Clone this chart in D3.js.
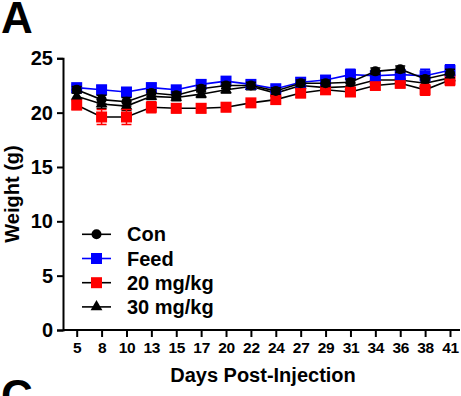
<!DOCTYPE html>
<html><head><meta charset="utf-8">
<script src="https://cdn.jsdelivr.net/npm/d3@7"></script>
<style>body{margin:0;background:#fff}svg{display:block}text{font-family:Arial,"Liberation Sans",sans-serif;font-weight:bold}</style>
</head><body><div id="c"></div>
<script>
const days = [5,8,10,13,15,17,20,22,24,27,29,31,34,36,38,41];
const yTicks = [0,5,10,15,20,25];
const con   = [22.1,21.2,21.0,21.8,21.6,22.2,22.5,22.5,22.0,22.7,22.7,22.8,23.8,24.0,23.1,23.6];
const conErr= [0.3,0.4,0.4,0.3,0.3,0.3,0.3,0.3,0.3,0.3,0.3,0.3,0.3,0.3,0.3,0.4];
const feed  = [22.3,22.1,21.9,22.3,22.1,22.6,22.9,22.6,22.2,22.8,23.0,23.5,23.4,23.5,23.4,23.9];
const feedErr=[0.3,0.4,0.4,0.4,0.3,0.4,0.4,0.3,0.3,0.4,0.4,0.5,0.4,0.4,0.6,0.5];
const d20   = [20.7,19.6,19.6,20.5,20.4,20.4,20.5,20.9,21.2,21.8,22.1,21.9,22.5,22.7,22.1,23.0];
const d20Err= [0.4,0.7,0.7,0.5,0.4,0.4,0.4,0.3,0.4,0.4,0.4,0.4,0.4,0.4,0.5,0.5];
const d30   = [21.5,20.8,20.6,21.5,21.4,21.7,22.1,22.4,21.8,22.5,22.3,22.4,23.0,23.0,22.7,23.2];
const d30Err= [0.3,0.4,0.4,0.3,0.3,0.3,0.3,0.3,0.3,0.3,0.3,0.3,0.3,0.3,0.3,0.3];
const seriesNames = ["Con","Feed","20 mg/kg","30 mg/kg"];

const W=461,H=396;
const svg=d3.select("#c").append("svg").attr("width",W).attr("height",H);
const x=d3.scalePoint().domain(days).range([76.7,450]);
const y=d3.scaleLinear().domain([0,25]).range([330,58.3]);

const series=[
 {name:seriesNames[3],vals:d30,err:d30Err,fill:"#000",line:"#000",shape:"tri"},
 {name:seriesNames[2],vals:d20,err:d20Err,fill:"#ff0000",line:"#000",shape:"sq",errc:"#ff0000"},
 {name:seriesNames[1],vals:feed,err:feedErr,fill:"#0000ff",line:"#0000ff",shape:"sq",errc:"#0000ff"},
 {name:seriesNames[0],vals:con,err:conErr,fill:"#000",line:"#000",shape:"circ"}
];
function marker(g,shape,fill){
  if(shape==="sq") g.append("rect").attr("x",-5.5).attr("y",-5.5).attr("width",11).attr("height",11).attr("fill",fill);
  else if(shape==="circ") g.append("circle").attr("r",5).attr("fill",fill);
  else g.append("path").attr("d",d3.symbol().type(d3.symbolTriangle).size(60)()).attr("fill",fill);
}
// axes
const ya=svg.append("g").attr("transform","translate(63,0)")
 .call(d3.axisLeft(y).tickValues(yTicks).tickSize(6).tickPadding(4));
ya.select(".domain").attr("stroke-width",2);
ya.selectAll(".tick line").attr("stroke-width",2);
ya.selectAll(".tick text").attr("font-size",20).attr("fill","#000");
const xa=svg.append("g").attr("transform","translate(0,330)")
 .call(d3.axisBottom(x).tickSize(7).tickPadding(5));
xa.select(".domain").attr("d","M63,0H460").attr("stroke-width",2);
xa.selectAll(".tick line").attr("stroke-width",2);
xa.selectAll(".tick text").attr("font-size",15.5).attr("letter-spacing",-0.3).attr("fill","#000");

// series
series.forEach(s=>{
  const g=svg.append("g");
  const errc=s.errc||s.line;
  s.vals.forEach((v,i)=>{
    const cx=x(days[i]);
    g.append("path").attr("d",`M${cx},${y(v-s.err[i])}V${y(v+s.err[i])}M${cx-5},${y(v+s.err[i])}H${cx+5}M${cx-5},${y(v-s.err[i])}H${cx+5}`)
     .attr("stroke",errc).attr("stroke-width",1.5).attr("fill","none");
  });
  g.append("path").datum(s.vals).attr("fill","none").attr("stroke",s.line).attr("stroke-width",1.6)
   .attr("d",d3.line().x((d,i)=>x(days[i])).y(d=>y(d)));
  s.vals.forEach((v,i)=>{
    const m=g.append("g").attr("transform",`translate(${x(days[i])},${y(v)})`);
    marker(m,s.shape,s.fill);
  });
});

// legend
const leg=[series[3],series[2],series[1],series[0]];
leg.forEach((s,i)=>{
  const ly=234.3+i*24.2;
  svg.append("line").attr("x1",82).attr("x2",111).attr("y1",ly).attr("y2",ly).attr("stroke",s.line).attr("stroke-width",1.6);
  const m=svg.append("g").attr("transform",`translate(96.5,${ly})`);
  marker(m,s.shape,s.fill);
  svg.append("text").attr("x",127).attr("y",ly+7).attr("font-size",20).text(s.name);
});

svg.append("text").attr("transform","translate(19,194) rotate(-90)").attr("text-anchor","middle").attr("font-size",20).text("Weight (g)");
svg.append("text").attr("x",263).attr("y",382).attr("text-anchor","middle").attr("font-size",20).text("Days Post-Injection");
svg.append("text").attr("x",1).attr("y",33).attr("font-size",44).text("A");
svg.append("text").attr("x",1).attr("y",411).attr("font-size",44).text("C");
</script></body></html>
